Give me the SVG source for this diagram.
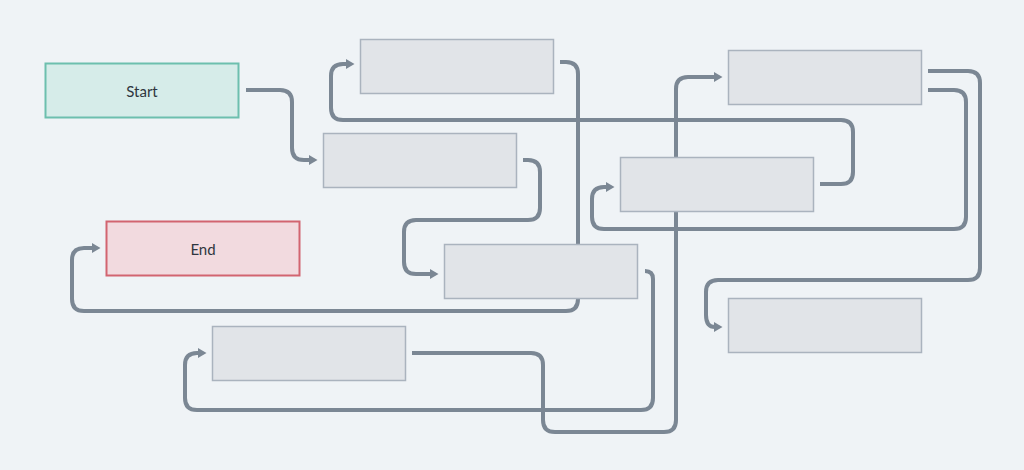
<svg xmlns="http://www.w3.org/2000/svg" width="1024" height="470" viewBox="0 0 1024 470">
<defs>
<marker id="arr" markerUnits="userSpaceOnUse" markerWidth="10" markerHeight="11" refX="1" refY="5.5" orient="auto">
<path d="M0,0.5 L8.5,5.5 L0,10.5 z" fill="#7b8794"/>
</marker>
<style>
.c{fill:none;stroke:#7b8794;stroke-width:4;stroke-linecap:butt;stroke-linejoin:round}
.n{fill:#e1e4e8;stroke:#aab3be;stroke-width:1.5}
.t{font-family:Lato,"Noto Sans","Liberation Sans",sans-serif;font-size:15px;fill:#2f3640;text-anchor:middle;dominant-baseline:central}
</style>
</defs>
<rect width="1024" height="470" fill="#eff3f6"/>
<g id="connectors">
<path class="c" marker-end="url(#arr)" d="M246 90 H280 Q292 90 292 102 V148 Q292 160 304 160 H310"/>
<path class="c" marker-end="url(#arr)" d="M523 160 H528 Q540 160 540 172 V208 Q540 220 528 220 H416 Q404 220 404 232 V262 Q404 274 416 274 H431"/>
<path class="c" marker-end="url(#arr)" d="M560 62 H566 Q578 62 578 74 V299 Q578 311 566 311 H84 Q72 311 72 299 V260 Q72 248 84 248 H93"/>
<path class="c" marker-end="url(#arr)" d="M645 271 Q653 271 653 279 V398 Q653 410 641 410 H197 Q185 410 185 398 V365 Q185 353 197 353 H199"/>
<path class="c" marker-end="url(#arr)" d="M412 353 H531 Q543 353 543 365 V420 Q543 432 555 432 H664 Q676 432 676 420 V89 Q676 77 688 77 H715"/>
<path class="c" marker-end="url(#arr)" d="M820 184 H841 Q853 184 853 172 V132 Q853 120 841 120 H343 Q331 120 331 108 V76 Q331 64 343 64 H347"/>
<path class="c" marker-end="url(#arr)" d="M928 90 H954 Q966 90 966 102 V217 Q966 229 954 229 H604 Q592 229 592 217 V199 Q592 187 604 187 H607"/>
<path class="c" marker-end="url(#arr)" d="M928 71 H968 Q980 71 980 83 V268 Q980 280 968 280 H718 Q706 280 706 292 V315 Q706 327 715 327"/>
</g>
<g id="start"><rect x="45.5" y="63.5" width="193" height="54" fill="#d6ece9" stroke="#6dbfae" stroke-width="2"/><text class="t" x="142" y="90.5">Start</text></g>
<g id="end"><rect x="106.5" y="221.5" width="193" height="54" fill="#f2dadf" stroke="#d26470" stroke-width="2"/><text class="t" x="203" y="248.5">End</text></g>
<g id="nodeA"><rect class="n" x="360.5" y="39.5" width="193" height="54"/></g>
<g id="nodeB"><rect class="n" x="323.5" y="133.5" width="193" height="54"/></g>
<g id="nodeC"><rect class="n" x="444.5" y="244.5" width="193" height="54"/></g>
<g id="nodeD"><rect class="n" x="212.5" y="326.5" width="193" height="54"/></g>
<g id="nodeE"><rect class="n" x="620.5" y="157.5" width="193" height="54"/></g>
<g id="nodeF"><rect class="n" x="728.5" y="50.5" width="193" height="54"/></g>
<g id="nodeG"><rect class="n" x="728.5" y="298.5" width="193" height="54"/></g>
</svg>
